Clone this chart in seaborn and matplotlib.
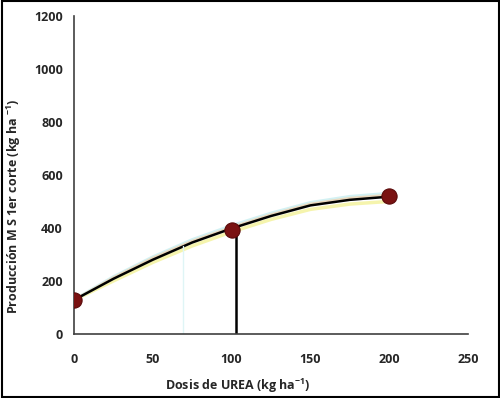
import matplotlib
matplotlib.use("Agg")
import matplotlib.pyplot as plt
import seaborn as sns
import pandas as pd

# Observed points
dose_pts = [0, 100, 200]
yield_pts = [128, 392, 520]

# Fitted curve
curve_x = [0, 25, 50, 75, 100, 125, 150, 175, 200]
curve_y = [128, 208, 280, 345, 398, 445, 485, 506, 518]
# faint overlapping curves
upper_y = [128, 215, 290, 355, 408, 455, 495, 518, 530]
lower_y = [128, 200, 270, 332, 385, 432, 470, 490, 500]
mid_y = [128, 212, 286, 350, 402, 450, 490, 512, 524]

# Reference lines
opt_dose = 103
opt_yield = 398
alt_dose = 69
alt_yield = 330

sns.set_theme(style="white")
plt.rcParams['font.family'] = ['Open Sans', 'DejaVu Sans']
plt.rcParams['mathtext.fontset'] = 'custom'
plt.rcParams['mathtext.rm'] = 'Open Sans'
plt.rcParams['mathtext.bf'] = 'Open Sans:bold'

fig = plt.figure(figsize=(5, 3.98), dpi=100)
ax = fig.add_axes([0.148, 0.161, 0.788, 0.799])

df_c = pd.DataFrame({"x": curve_x, "y": curve_y})
sns.lineplot(x=curve_x, y=lower_y, ax=ax, color="#f2f08a", lw=2.5, alpha=0.7)
sns.lineplot(x=curve_x, y=upper_y, ax=ax, color="#c8eef0", lw=2.5, alpha=0.8)
sns.lineplot(x=curve_x, y=mid_y, ax=ax, color="#f3cfa8", lw=2, alpha=0.7)
sns.lineplot(data=df_c, x="x", y="y", ax=ax, color="black", lw=1.8)

ax.plot([alt_dose, alt_dose], [0, alt_yield], color="#dff5f6", lw=1)
ax.plot([opt_dose, opt_dose], [0, opt_yield], color="black", lw=1.8)

sns.scatterplot(x=dose_pts, y=yield_pts, ax=ax, color="#7a1212", s=120,
                edgecolor="#5a0a0a", linewidth=0.8, zorder=5)

ax.set_xlim(0, 250)
ax.set_ylim(0, 1200)
ax.set_xticks([0, 50, 100, 150, 200, 250])
ax.set_yticks(range(0, 1201, 200))
ax.tick_params(axis="both", direction="out", length=4, width=1, color="#404040",
               labelsize=9, pad=10)
ax.tick_params(axis="y", pad=4)
for lab in ax.get_xticklabels() + ax.get_yticklabels():
    lab.set_fontweight("bold")
for s in ["top", "right"]:
    ax.spines[s].set_visible(False)
for s in ["left", "bottom"]:
    ax.spines[s].set_color("#404040")
    ax.spines[s].set_linewidth(1.2)
ax.set_xlabel("Dosis de UREA (kg ha$^{\\mathbf{-1}}$)", fontsize=9, fontweight="bold")
ax.set_ylabel("Producción M S 1er corte (kg ha $^{\\mathbf{-1}}$)", fontsize=9, fontweight="bold")
ax.xaxis.set_label_coords(0.415, -0.135)
ax.yaxis.set_label_coords(-0.13, 0.40)

fig.patches.append(plt.Rectangle((0.003, 0.003), 0.994, 0.994, transform=fig.transFigure,
                                 fill=False, edgecolor="black", lw=1.5))
fig.savefig("out.png", dpi=100)
